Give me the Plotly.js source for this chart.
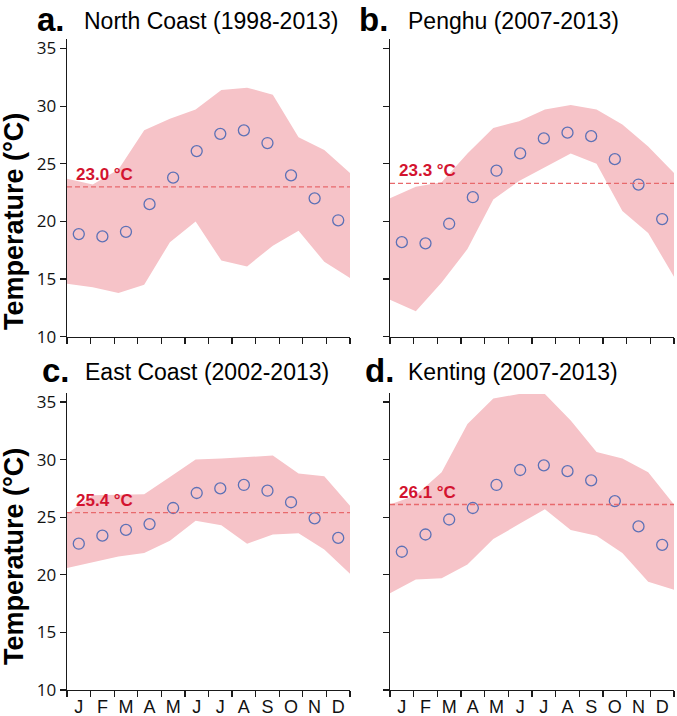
<!DOCTYPE html>
<html>
<head>
<meta charset="utf-8">
<script src="https://cdn.plot.ly/plotly-3.0.1.min.js"></script>
<style>html,body{margin:0;padding:0;background:#fff;}#chart{width:677px;height:716px;}</style>
</head>
<body>
<div id="chart"></div>
<script>
// ---- data ----
const months = ['J','F','M','A','M','J','J','A','S','O','N','D'];

const northMean  = [18.9,18.7,19.1,21.5,23.8,26.1,27.6,27.9,26.8,24.0,22.0,20.1];
const northUpper = [23.7,23.2,24.5,27.9,28.9,29.7,31.4,31.6,31.0,27.3,26.2,24.2];
const northLower = [14.6,14.3,13.8,14.5,18.2,20.0,16.6,16.1,17.9,19.2,16.5,15.1];
const northAnnual = 23.0;

const penghuMean  = [18.2,18.1,19.8,22.1,24.4,25.9,27.2,27.7,27.4,25.4,23.2,20.2];
const penghuUpper = [22.0,23.0,23.4,25.9,28.1,28.7,29.7,30.1,29.7,28.4,26.5,24.2];
const penghuLower = [13.2,12.2,14.7,17.6,21.9,23.5,24.7,25.9,25.0,20.9,19.0,15.2];
const penghuAnnual = 23.3;

const eastMean  = [22.7,23.4,23.9,24.4,25.8,27.1,27.5,27.8,27.3,26.3,24.9,23.2];
const eastUpper = [25.3,26.9,26.95,27.0,28.5,30.0,30.1,30.2,30.35,28.8,28.55,26.0];
const eastLower = [20.6,21.1,21.6,21.9,22.95,24.7,24.3,22.7,23.5,23.6,22.2,20.1];
const eastAnnual = 25.4;

const kentingMean  = [22.0,23.5,24.8,25.8,27.8,29.1,29.5,29.0,28.2,26.4,24.2,22.6];
const kentingUpper = [26.1,26.9,28.9,33.1,35.3,35.7,35.7,33.4,30.65,30.1,28.9,26.1];
const kentingLower = [18.4,19.6,19.7,20.9,23.1,24.4,25.7,23.9,23.4,21.9,19.4,18.7];
const kentingAnnual = 26.1;

const panelLetters = ['a.','b.','c.','d.'];
const panelTitles = ['North Coast (1998-2013)','Penghu (2007-2013)','East Coast (2002-2013)','Kenting (2007-2013)'];
const yTicks = [10,15,20,25,30,35];
const yTitle = 'Temperature (°C)';

// ---- build ----
const W = 677, H = 716;
const px = x => x / W;
const py = y => 1 - y / H;

const n = months.length;
const centers = months.map((_, i) => i);
const boundaries = Array.from({length: n + 1}, (_, i) => i - 0.5);
// band outline vertices are spread evenly from the left to the right edge of the axis
const bandX = Array.from({length: n}, (_, i) => -0.5 + i * n / (n - 1));

const panels = [
  {mean: northMean, up: northUpper, lo: northLower, annual: northAnnual},
  {mean: penghuMean, up: penghuUpper, lo: penghuLower, annual: penghuAnnual},
  {mean: eastMean, up: eastUpper, lo: eastLower, annual: eastAnnual},
  {mean: kentingMean, up: kentingUpper, lo: kentingLower, annual: kentingAnnual}
];

const xDomains = [[px(67), px(350)], [px(390), px(674)]];
const yDomains = [[py(336.7), py(39.3)], [py(690), py(392.8)]];

const bandColor = '#f6c3c8';
const dotColor = '#5d71b6';
const lineColor = '#e8696c';
const labelColor = '#d3132f';
const axisColor = '#1a1a1a';

const traces = [];
const layout = {
  width: W, height: H,
  margin: {l: 0, r: 0, t: 0, b: 0},
  paper_bgcolor: '#fff', plot_bgcolor: 'rgba(0,0,0,0)',
  showlegend: false,
  annotations: [], shapes: []
};

panels.forEach((p, k) => {
  const sx = k === 0 ? '' : String(k + 1);
  const xa = 'x' + sx, ya = 'y' + sx;
  const col = k % 2, row = Math.floor(k / 2);

  traces.push({
    type: 'scatter', mode: 'lines', xaxis: xa, yaxis: ya,
    x: bandX.concat(bandX.slice().reverse()),
    y: p.up.concat(p.lo.slice().reverse()),
    fill: 'toself', fillcolor: bandColor, line: {width: 0, color: bandColor},
    hoverinfo: 'skip'
  });
  traces.push({
    type: 'scatter', mode: 'markers', xaxis: xa, yaxis: ya,
    x: centers, y: p.mean,
    marker: {symbol: 'circle-open', size: 11, color: dotColor, line: {width: 1.3, color: dotColor}}
  });

  layout['xaxis' + sx] = {
    domain: xDomains[col], anchor: ya,
    range: [-0.5, n - 0.5], fixedrange: true,
    tickmode: 'array', tickvals: centers, ticktext: months, ticks: '',
    showticklabels: row === 1,
    tickfont: {family: 'Liberation Sans, Arial, sans-serif', size: 18, color: '#111'},
    showline: true, linecolor: axisColor, linewidth: 1.3,
    showgrid: false, zeroline: false,
    minor: {tickmode: 'array', tickvals: boundaries, ticks: 'outside', ticklen: 6, tickwidth: 1.2, tickcolor: axisColor, showgrid: false}
  };
  layout['yaxis' + sx] = {
    domain: yDomains[row], anchor: xa,
    range: [10, 35.8], fixedrange: true,
    tickmode: 'array', tickvals: yTicks,
    ticks: 'outside', ticklen: 6, tickwidth: 1.2, tickcolor: axisColor,
    showticklabels: col === 0,
    tickfont: {family: 'Open Sans, sans-serif', size: 17, color: '#111'},
    showline: true, linecolor: axisColor, linewidth: 1.3,
    showgrid: false, zeroline: false
  };

  layout.shapes.push({
    type: 'line', xref: xa + ' domain', yref: ya, x0: 0, x1: 1, y0: p.annual, y1: p.annual,
    line: {color: lineColor, width: 1.4, dash: '5px,3px'}
  });
  layout.annotations.push({
    xref: xa, yref: ya, x: -0.5, y: p.annual, xanchor: 'left', yanchor: 'bottom',
    xshift: 7, yshift: 1, showarrow: false,
    text: '<b>' + p.annual.toFixed(1) + ' °C</b>',
    font: {family: 'Liberation Sans, Arial, sans-serif', size: 17, color: labelColor}
  });
});

// panel letters and titles
const letterX = [35, 357, 40, 363];
const titleX = [82, 406, 83, 406];
const baseY = [30, 30, 381, 381];
panelLetters.forEach((t, k) => {
  layout.annotations.push({
    xref: 'paper', yref: 'paper', x: px(letterX[k]), y: py(baseY[k] + 1 - 11.5),
    xanchor: 'left', yanchor: 'middle', showarrow: false, text: '<b>' + t + '</b>',
    font: {family: 'Liberation Sans, Arial, sans-serif', size: 33, color: '#000'}
  });
  layout.annotations.push({
    xref: 'paper', yref: 'paper', x: px(titleX[k]), y: py(baseY[k] - 9),
    xanchor: 'left', yanchor: 'middle', showarrow: false, text: panelTitles[k],
    font: {family: 'Liberation Sans, Arial, sans-serif', size: 23, color: '#000'}
  });
});

// y-axis titles
[222, 557].forEach(cy => {
  layout.annotations.push({
    xref: 'paper', yref: 'paper', x: px(14), y: py(cy),
    xanchor: 'center', yanchor: 'middle', textangle: -90, showarrow: false,
    text: '<b>' + yTitle + '</b>',
    font: {family: 'Liberation Sans, Arial, sans-serif', size: 27, color: '#000'}
  });
});

Plotly.newPlot('chart', traces, layout, {staticPlot: true, displayModeBar: false});
</script>
</body>
</html>
